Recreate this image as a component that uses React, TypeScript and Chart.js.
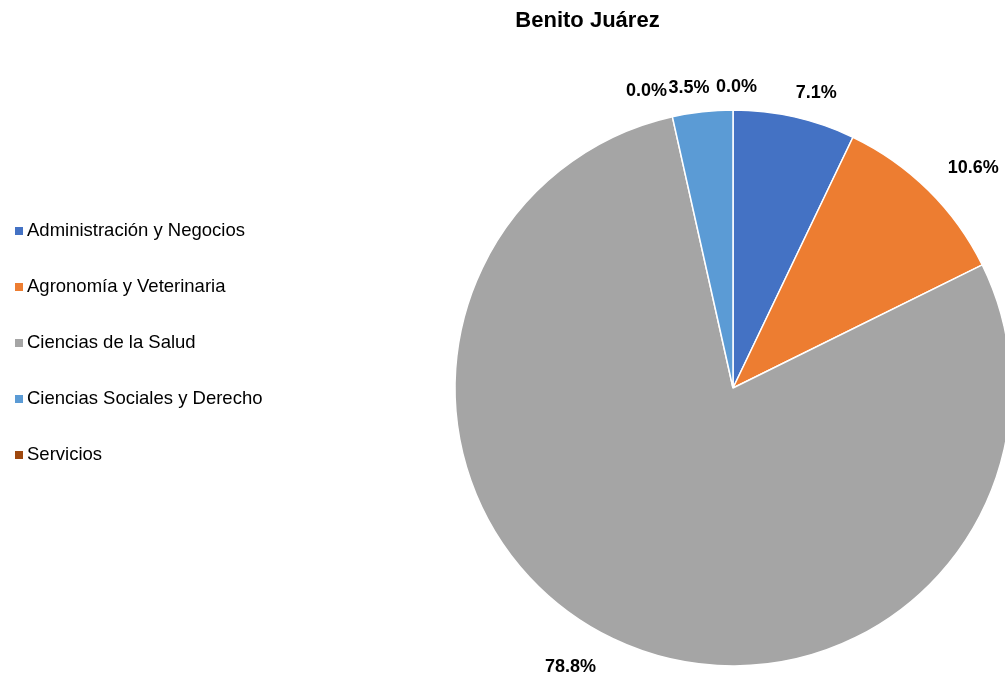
import React, { useEffect, useRef } from "react";
import { Chart, registerables } from "chart.js";

Chart.register(...registerables);

const TITLE = "Benito Juárez";
const categories = [
  "Administración y Negocios",
  "Agronomía y Veterinaria",
  "Ciencias de la Salud",
  "(sin nombre)",
  "Ciencias Sociales y Derecho",
  "Servicios",
];
const values = [7.1, 10.6, 78.8, 0.0, 3.5, 0.0];
const showInLegend = [true, true, true, false, true, true];
const colors = ["#4472C4", "#ED7D31", "#A5A5A5", "#FFC000", "#5B9BD5", "#9E480E"];
// label nudges (style only), in px relative to a point outside the slice
const labelNudge: [number, number][] = [
  [17, -2.5],
  [29.5, -7],
  [-33, 8],
  [-21, -4],
  [-11, -2],
  [3.5, -1],
];

const FONT = "'Liberation Sans', Arial, sans-serif";

const overlayPlugin = {
  id: "overlay",
  afterDraw(chart: any) {
    const ctx = chart.ctx as CanvasRenderingContext2D;
    ctx.save();
    // title
    ctx.fillStyle = "#000";
    ctx.font = `bold 22px ${FONT}`;
    ctx.textAlign = "center";
    ctx.textBaseline = "middle";
    ctx.fillText(TITLE, 587.5, 21);

    // legend
    ctx.font = `18.5px ${FONT}`;
    ctx.textAlign = "left";
    let row = 0;
    categories.forEach((c, i) => {
      if (!showInLegend[i]) return;
      const y = 231 + row * 56;
      ctx.fillStyle = colors[i];
      ctx.fillRect(15, y - 4, 8, 8);
      ctx.fillStyle = "#000";
      ctx.fillText(c, 27, y);
      row++;
    });

    // data labels
    const meta = chart.getDatasetMeta(0);
    ctx.font = `bold 18px ${FONT}`;
    ctx.textAlign = "center";
    ctx.fillStyle = "#000";
    meta.data.forEach((arc: any, i: number) => {
      const mid = (arc.startAngle + arc.endAngle) / 2;
      const R = arc.outerRadius + 22;
      const x = arc.x + Math.cos(mid) * R + labelNudge[i][0];
      const y = arc.y + Math.sin(mid) * R + labelNudge[i][1];
      ctx.fillText(values[i].toFixed(1) + "%", x, y);
    });
    ctx.restore();
  },
};

export default function App() {
  const ref = useRef<HTMLCanvasElement>(null);
  useEffect(() => {
    if (!ref.current) return;
    const chart = new Chart(ref.current, {
      type: "pie",
      data: {
        labels: categories,
        datasets: [
          {
            data: values,
            backgroundColor: colors,
            borderColor: "#FFFFFF",
            borderWidth: 1.5,
            radius: 278,
          } as any,
        ],
      },
      options: {
        responsive: false,
        animation: false,
        layout: { padding: { left: 455, right: 29, top: 110, bottom: 13 } },
        plugins: {
          legend: { display: false },
          title: { display: false },
          tooltip: { enabled: false },
        },
      },
      plugins: [overlayPlugin],
    });
    return () => chart.destroy();
  }, []);
  return (
    <div
      style={{
        position: "absolute",
        left: 0,
        top: 0,
        width: 1005,
        height: 679,
        overflow: "hidden",
        background: "#fff",
      }}
    >
      <canvas ref={ref} width={1040} height={679} style={{ display: "block" }} />
    </div>
  );
}
